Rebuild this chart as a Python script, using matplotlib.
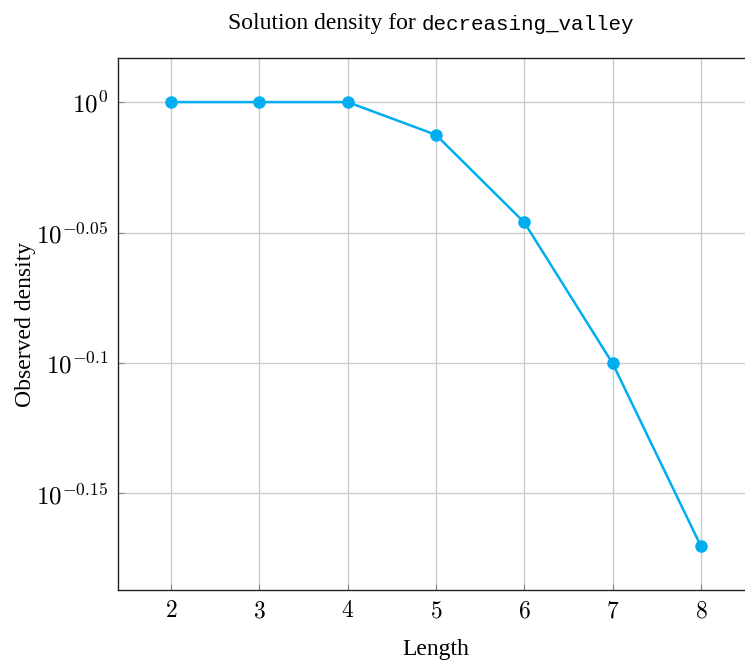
import numpy as np
import matplotlib
matplotlib.use("Agg")
from matplotlib import pyplot as plt
import matplotlib.ticker as ticker

lengths = [2, 3, 4, 5, 6, 7, 8]
density = [1.0, 1.0, 1.0, 0.9715, 0.8992, 0.794, 0.6757]
ytick_exps = [0, -0.05, -0.1, -0.15]
ytick_labels = [r'$10^{0}$', r'$10^{-0.05}$', r'$10^{-0.1}$', r'$10^{-0.15}$']

plt.rcParams['mathtext.fontset'] = 'cm'
plt.rcParams['font.family'] = ['Liberation Serif', 'DejaVu Serif']

fig = plt.figure(figsize=(7.45, 6.62), dpi=100)
ax = fig.add_axes([118/745, 1-590/662, (754-118)/745, (590-58)/662])

ax.plot(lengths, density, '-o', color='#00AEEF', lw=1.8, ms=8, zorder=3)

ax.set_yscale('log')
ax.yaxis.set_major_locator(ticker.FixedLocator([10**e for e in ytick_exps]))
ax.yaxis.set_major_formatter(ticker.FixedFormatter(ytick_labels))
ax.yaxis.set_minor_locator(ticker.NullLocator())
ax.set_xticks(lengths)
ax.set_xticklabels([r'$%d$' % v for v in lengths])

ax.set_xlim(1.4, 8.6)
ax.set_ylim(10**-0.187, 10**0.0169)

ax.grid(True, color='#cccccc', lw=1)
ax.tick_params(direction='in', length=4, color='#888888', labelsize=17, pad=8)
ax.tick_params(axis='y', labelsize=18, pad=7)
for s in ax.spines.values():
    s.set_color('#222222')
    s.set_linewidth(1)

ax.set_xlabel('Length', fontsize=17, labelpad=12)
ax.set_ylabel('Observed density', fontsize=17)
ax.yaxis.set_label_coords(-0.129, 0.5)
fig.text(0.566, 1-24/662, 'Solution density for ', fontsize=17, ha='right', va='center')
fig.text(0.566, 1-24/662, 'decreasing_valley', fontsize=15, ha='left', va='center',
         family=['Liberation Mono', 'DejaVu Sans Mono'])

fig.savefig('out.png', dpi=100)
